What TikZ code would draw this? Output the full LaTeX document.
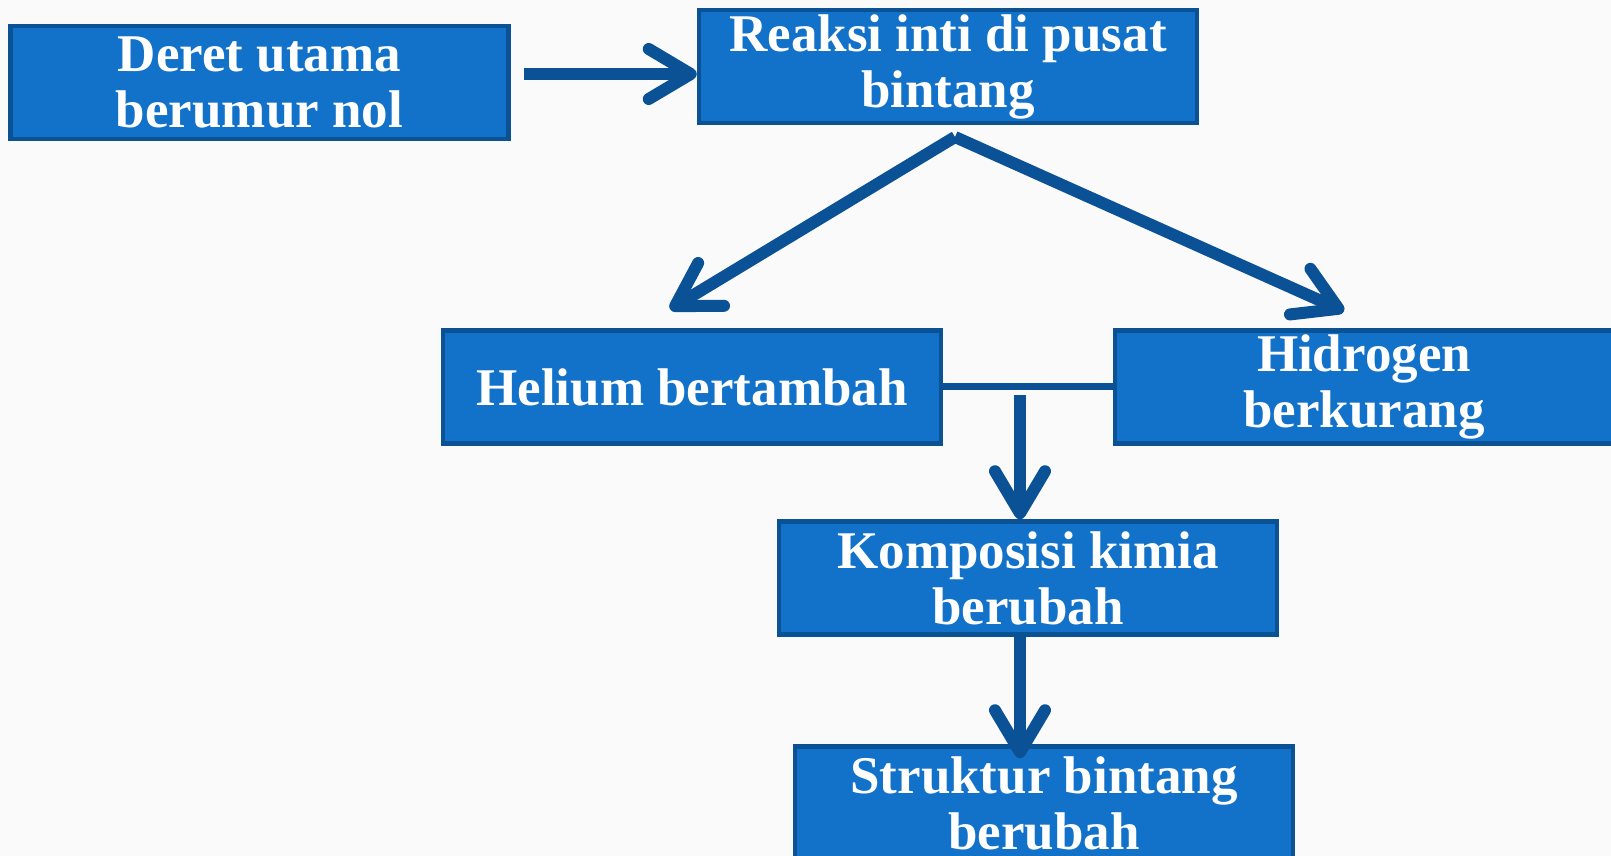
\documentclass[tikz,border=0pt]{standalone}
\usepackage{fontspec}
\setmainfont{Liberation Serif}
\usetikzlibrary{positioning, arrows.meta}

\definecolor{boxfill}{HTML}{1271C8}
\definecolor{boxline}{HTML}{0A5294}
\definecolor{arrowblue}{HTML}{0B5195}
\definecolor{paper}{HTML}{FAFAFA}

\tikzset{
  stagebox/.style={rectangle, draw=boxline, fill=boxfill, line width=4.5pt,
    minimum width=498pt, minimum height=113pt, inner sep=0pt,
    text=white, align=center,
    font=\fontsize{53}{56}\selectfont\bfseries},
  flow/.style={draw=arrowblue, line width=12pt,
    -{Straight Barb[round, length=42pt, width=50pt]}},
  linkline/.style={draw=arrowblue, line width=7pt}
}

\begin{document}
\begin{tikzpicture}[x=1pt, y=1pt]
      \fill[paper] (0,0) rectangle (1611,856);
      \useasboundingbox (0,0) rectangle (1611,856);

      % Boxes
      \node[stagebox] (deret) at (259.5,773.5) {Deret utama\\berumur nol};
      \node[stagebox] (reaksi) at (948,789.5) {Reaksi inti di pusat\\bintang};
      \node[stagebox] (helium) at (692,469) {Helium bertambah};
      \node[stagebox] (hidrogen) at (1364,469) {Hidrogen\\berkurang};
      \node[stagebox] (komposisi) at (1028,278) {Komposisi kimia\\berubah};
      \node[stagebox] (struktur) at (1044,53) {Struktur bintang\\berubah};

      % Points
      \coordinate (start) at (524,782);
      \coordinate (apex) at (955,719);
      \coordinate (split) at (1020,461);

      % Arrows
      \draw[flow] (start) -- (start -| reaksi.west);
      \draw[flow] (apex) -- ([xshift=-22pt, yshift=19pt]helium.north);
      \draw[flow] (apex) -- ([xshift=-20pt, yshift=17pt]hidrogen.north);
      \draw[linkline] (helium.east) -- (hidrogen.west);
      \draw[flow] (split) -- (split |- komposisi.north);
      \draw[flow] (komposisi.south -| split) -- ([yshift=-14pt]struktur.north -| split);
  \end{tikzpicture}
\end{document}
